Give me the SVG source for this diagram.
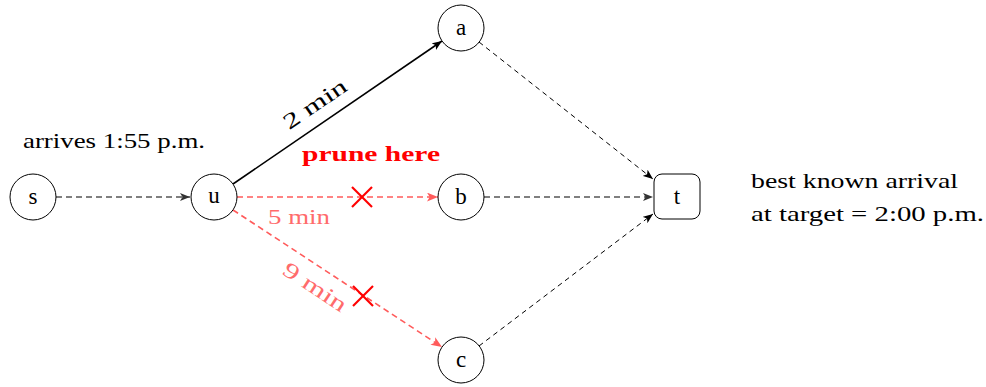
<svg xmlns="http://www.w3.org/2000/svg" width="986" height="387" viewBox="0 0 986 387">
<style>
.node{fill:#fff;stroke:#000;stroke-width:1}
.lbl{font-family:"Liberation Serif",serif;font-size:23px;fill:#000;text-anchor:middle;dominant-baseline:central}
.txt{font-family:"Liberation Serif",serif;font-size:22px;fill:#000}
.dblack{stroke:#000;stroke-width:1;stroke-dasharray:5 4;fill:none}
.dgray{stroke:#555;stroke-width:1.3;stroke-dasharray:6 4;fill:none}
.dred{stroke:#ff5b5b;stroke-width:1.6;stroke-dasharray:6 4;fill:none}
.solid{stroke:#000;stroke-width:1.6;fill:none}
.cross{stroke:#ff0000;stroke-width:2.2}
.redlbl{font-family:"Liberation Serif",serif;font-size:22px;fill:#ff6b6b}
</style>
<defs>
<marker id="ab" viewBox="0 0 10 8" refX="10" refY="4" markerWidth="10" markerHeight="8" markerUnits="userSpaceOnUse" orient="auto">
<path d="M0,0 L10,4 L0,8 L2.5,4 Z" fill="#000"/>
</marker>
<marker id="abg" viewBox="0 0 10 8" refX="10" refY="4" markerWidth="10" markerHeight="8" markerUnits="userSpaceOnUse" orient="auto">
<path d="M0,0 L10,4 L0,8 L2.5,4 Z" fill="#333"/>
</marker>
<marker id="ar" viewBox="0 0 10 8" refX="10" refY="4" markerWidth="11" markerHeight="9" markerUnits="userSpaceOnUse" orient="auto">
<path d="M0,0 L10,4 L0,8 L2.5,4 Z" fill="#ff5b5b"/>
</marker>
</defs>
<g id="connectors">
<line class="dgray" x1="56" y1="197" x2="190" y2="197" marker-end="url(#abg)"/>
<line class="solid" x1="233" y1="184" x2="442" y2="41" marker-end="url(#ab)"/>
<line class="dred" x1="237" y1="197" x2="438" y2="197" marker-end="url(#ar)"/>
<line class="dred" x1="233" y1="210" x2="442" y2="347" marker-end="url(#ar)"/>
<line class="dblack" x1="479" y1="42" x2="653" y2="179" marker-end="url(#ab)"/>
<line class="dgray" x1="484" y1="197" x2="653" y2="197" marker-end="url(#abg)"/>
<line class="dblack" x1="479" y1="346" x2="653" y2="214" marker-end="url(#ab)"/>
<g id="x1"><line class="cross" x1="352" y1="187" x2="372" y2="207"/><line class="cross" x1="372" y1="187" x2="352" y2="207"/></g>
<g id="x2"><line class="cross" x1="353" y1="286" x2="373" y2="306"/><line class="cross" x1="373" y1="286" x2="353" y2="306"/></g>
<text class="txt" transform="translate(319,110) rotate(-34.4)" text-anchor="middle" textLength="72" lengthAdjust="spacingAndGlyphs">2 min</text>
<text class="redlbl" x="268" y="224" textLength="62" lengthAdjust="spacingAndGlyphs">5 min</text>
<text class="redlbl" transform="translate(311,293) rotate(33.4)" text-anchor="middle" textLength="72" lengthAdjust="spacingAndGlyphs">9 min</text>
</g>
<g id="s"><circle class="node" cx="33" cy="197" r="23"/><text class="lbl" x="33" y="196">s</text></g>
<g id="u"><circle class="node" cx="214" cy="197" r="23"/><text class="lbl" x="214" y="195">u</text></g>
<g id="a"><circle class="node" cx="461" cy="28" r="23"/><text class="lbl" x="461" y="27">a</text></g>
<g id="b"><circle class="node" cx="461" cy="197" r="23"/><text class="lbl" x="461" y="196">b</text></g>
<g id="c"><circle class="node" cx="461" cy="360" r="23"/><text class="lbl" x="461" y="359">c</text></g>
<g id="t"><rect class="node" x="654" y="174" width="46" height="45" rx="8"/><text class="lbl" x="677" y="196">t</text></g>
<text class="txt" x="23" y="148" textLength="182" lengthAdjust="spacingAndGlyphs">arrives 1:55 p.m.</text>
<text x="302" y="161" font-family="Liberation Serif,serif" font-size="21" font-weight="bold" fill="#ff0000" textLength="138" lengthAdjust="spacingAndGlyphs">prune here</text>
<text class="txt" x="751" y="188" textLength="207" lengthAdjust="spacingAndGlyphs">best known arrival</text>
<text class="txt" x="751" y="221" textLength="233" lengthAdjust="spacingAndGlyphs">at target = 2:00 p.m.</text>
</svg>
